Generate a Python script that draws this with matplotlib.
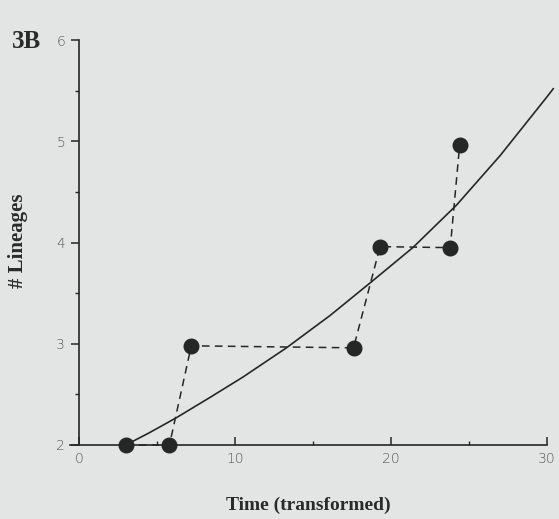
import matplotlib
matplotlib.use("Agg")
import matplotlib.pyplot as plt
from matplotlib.ticker import MultipleLocator

# observed lineage-through-time points
obs_time = [3.0, 5.8, 7.2, 17.6, 19.3, 23.8, 24.4]
obs_lineages = [2.0, 2.0, 2.98, 2.96, 3.96, 3.95, 4.96]

# expected curve
curve_time = [3.0, 4.5, 6.25, 8.4, 10.5, 13.3, 16.1, 18.65, 21.4, 24.2, 27.0, 30.0, 30.4]
curve_lineages = [2.00, 2.12, 2.27, 2.47, 2.67, 2.96, 3.28, 3.60, 3.95, 4.37, 4.86, 5.44, 5.52]

x_ticks = [0, 10, 20, 30]
y_ticks = [2, 3, 4, 5, 6]

bg = "#e3e5e4"
ink = "#262626"

fig = plt.figure(figsize=(5.59, 5.19), dpi=100, facecolor=bg)
ax = fig.add_axes([0.1245, 0.1426, 0.854, 0.780], facecolor=bg)

ax.plot(curve_time, curve_lineages, color=ink, lw=1.2, clip_on=False, zorder=2)
ax.plot(obs_time, obs_lineages, color=ink, lw=1.1, ls=(0, (5, 3.5)), zorder=2,
        clip_on=False)
ax.plot(obs_time, obs_lineages, ls="none", marker="o", ms=10.5, color=ink,
        zorder=3, clip_on=False)

ax.set_xlim(-0.6, 30)
ax.set_ylim(2, 6)
for s in ("top", "right"):
    ax.spines[s].set_visible(False)
ax.spines["left"].set_position(("data", 0))
ax.spines["left"].set_color(ink)
ax.spines["bottom"].set_color(ink)
ax.spines["left"].set_linewidth(1.2)
ax.spines["bottom"].set_linewidth(1.2)

ax.set_xticks(x_ticks)
ax.set_yticks(y_ticks)
ax.xaxis.set_minor_locator(MultipleLocator(5))
ax.yaxis.set_minor_locator(MultipleLocator(0.5))
ax.tick_params(axis="x", which="major", direction="in", length=6, width=1.1,
               color=ink, labelsize=10, labelcolor="#555555", pad=5)
ax.tick_params(axis="x", which="minor", direction="in", length=3, width=1.0,
               color=ink)
ax.tick_params(axis="y", which="major", direction="out", length=6, width=1.1,
               color=ink, labelsize=10, labelcolor="#555555", pad=4)
ax.tick_params(axis="y", which="minor", direction="out", length=3, width=1.0,
               color=ink)
for lab in ax.get_xticklabels() + ax.get_yticklabels():
    lab.set_family("DejaVu Sans")
    lab.set_fontweight("light")

ax.set_xlabel("Time (transformed)", family="Liberation Serif", fontweight="bold",
              fontsize=14, color="#2a2a2a", labelpad=22)
ax.set_ylabel("# Lineages", family="Liberation Serif", fontweight="bold",
              fontsize=15, color="#2a2a2a")
ax.yaxis.set_label_coords(-0.088, 0.505)

fig.text(0.021, 0.908, "3B", family="Liberation Serif", fontweight="bold",
         fontsize=18, color="#2a2a2a")

fig.savefig("out.png", dpi=100, facecolor=bg)
